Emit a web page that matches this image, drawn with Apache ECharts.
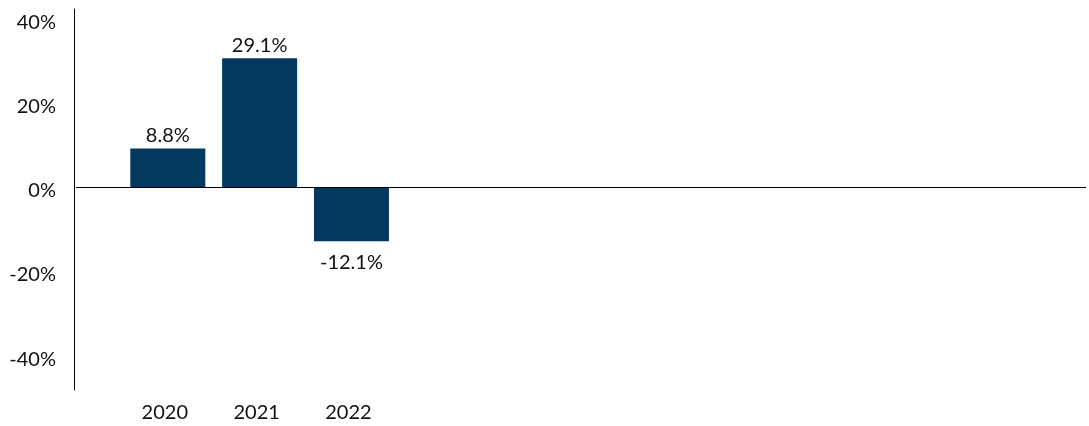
<!DOCTYPE html>
<html>
<head>
<meta charset="utf-8">
<script src="https://cdn.jsdelivr.net/npm/echarts@6/dist/echarts.min.js"></script>
<style>
  html, body { margin: 0; padding: 0; background: #fff; }
  #chart { width: 1089px; height: 426px; }
</style>
</head>
<body>
<div id="chart"></div>
<script>
// categories: empty slots pad the axis the way the original does
var years = ['', '2020', '2021', '2022', '', '', '', '', '', '', '', ''];
var returns = [null, 8.8, 29.1, -12.1, null, null, null, null, null, null, null, null];
var tickValues = [-40, -20, 0, 20, 40];

var chart = echarts.init(document.getElementById('chart'));

var barData = returns.map(function (v) {
    if (v === null) return null;
    return {
        value: v,
        label: v >= 0 ? { position: 'top', distance: 3 } : { position: 'bottom', distance: 11 }
    };
});

var option = {
    animation: false,
    textStyle: { fontFamily: 'Lato' },
    grid: { left: 76, right: 0, top: 9, bottom: 36 },
    xAxis: {
        type: 'category',
        data: years,
        boundaryGap: false,
        axisLine: { show: false },
        axisTick: { show: false },
        axisLabel: { color: '#111', fontSize: 20, margin: 13, interval: 0, padding: [0, 6, 0, 0] },
        splitLine: { show: false }
    },
    yAxis: [
        {
            // scale used by the bars
            type: 'value',
            min: -45.6,
            max: 40.2,
            offset: 2,
            axisLine: { show: true, lineStyle: { color: '#000', width: 1 } },
            axisTick: { show: false },
            axisLabel: { show: false },
            splitLine: { show: false }
        },
        {
            // tick labels, spaced as in the original
            type: 'value',
            position: 'left',
            min: -47.3,
            max: 43.1,
            offset: 2,
            axisLine: { show: false },
            axisTick: { show: false },
            splitLine: { show: false },
            axisLabel: {
                color: '#111',
                fontSize: 20,
                margin: 18,
                customValues: tickValues,
                formatter: function (v) { return v + '%'; }
            }
        }
    ],
    series: [
        {
            type: 'bar',
            yAxisIndex: 0,
            data: barData,
            barWidth: 75,
            itemStyle: { color: '#03385f' },
            label: {
                show: true,
                color: '#111',
                fontSize: 20,
                formatter: function (p) { return p.value.toFixed(1) + '%'; }
            },
            markLine: {
                silent: true,
                symbol: 'none',
                label: { show: false },
                lineStyle: { color: '#000', width: 1, type: 'solid' },
                data: [{ yAxis: 0 }]
            }
        }
    ]
};

option && chart.setOption(option);
</script>
</body>
</html>
